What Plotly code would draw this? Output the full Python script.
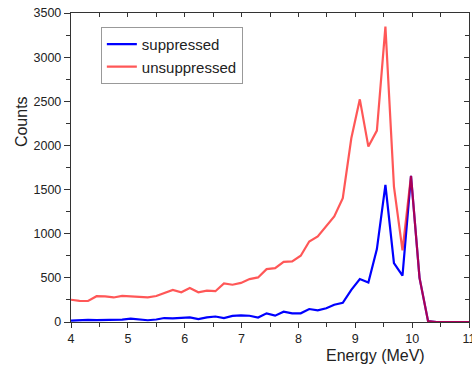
import plotly.graph_objects as go

energy = [4.00, 4.15, 4.30, 4.45, 4.60, 4.75, 4.90, 5.05, 5.20, 5.35,
          5.50, 5.64, 5.79, 5.94, 6.09, 6.24, 6.39, 6.54, 6.69, 6.84,
          6.99, 7.14, 7.29, 7.44, 7.59, 7.74, 7.89, 8.04, 8.19, 8.34,
          8.49, 8.63, 8.78, 8.93, 9.08, 9.23, 9.38, 9.53, 9.68, 9.83,
          9.98, 10.13, 10.28, 10.43, 10.58, 10.73, 10.88, 11.03]

suppressed = [15, 22, 25, 22, 25, 22, 28, 38, 32, 20,
              28, 45, 40, 50, 52, 32, 52, 62, 45, 70,
              75, 71, 50, 98, 72, 117, 98, 98, 147, 132,
              155, 195, 218, 365, 486, 448, 826, 1553, 667, 524,
              1655, 500, 10, 0, 0, 0, 0, 0]

unsuppressed = [252, 240, 238, 292, 290, 278, 296, 290, 283, 280,
                294, 328, 364, 336, 384, 337, 356, 349, 438, 422,
                443, 486, 505, 599, 610, 682, 686, 750, 912, 969,
                1082, 1195, 1403, 2081, 2522, 1987, 2168, 3345, 1534, 812,
                1655, 500, 10, 0, 0, 0, 0, 0]

FONT = "Liberation Sans, Arial, sans-serif"
AX = "#333333"

fig = go.Figure()
fig.add_trace(go.Scatter(x=energy, y=suppressed, mode="lines", name="suppressed",
                         line=dict(color="#0000ff", width=2.2)))
# drawn on the overlay axes (same ranges) so it sits on top and the
# inside-tick top/right axes are rendered
fig.add_trace(go.Scatter(x=energy, y=unsuppressed, mode="lines", name="unsuppressed",
                         xaxis="x2", yaxis="y2",
                         line=dict(color="rgba(255,0,0,0.66)", width=2.2)))

common = dict(showgrid=False, zeroline=False, tickcolor=AX, tickwidth=1.3,
              automargin=False)

fig.update_layout(
    width=472, height=368,
    margin=dict(l=71, r=3, t=13, b=46),
    paper_bgcolor="white", plot_bgcolor="white",
    font=dict(family=FONT, color="#222222"),
    showlegend=True,
    legend=dict(x=0.075, y=0.955, xanchor="left", yanchor="top",
                bgcolor="white", bordercolor="#999999", borderwidth=1,
                font=dict(family=FONT, size=15, color="#222222"),
                tracegroupgap=0, itemwidth=30),
    xaxis=dict(range=[4, 11], dtick=1, tick0=4, ticks="outside", ticklen=5,
               showline=True, linecolor=AX, linewidth=1.4, mirror=True,
               ticklabeloverflow="allow",
               tickfont=dict(size=12.5, family=FONT, color="#222222"),
               minor=dict(dtick=0.5, ticks="outside", ticklen=4, tickcolor=AX, tickwidth=1.3),
               **common),
    yaxis=dict(range=[0, 3500], dtick=500, tick0=0, ticks="outside", ticklen=6,
               showline=True, linecolor=AX, linewidth=1.4, mirror=True,
               tickfont=dict(size=12.5, family=FONT, color="#222222"),
               minor=dict(dtick=250, ticks="outside", ticklen=4, tickcolor=AX, tickwidth=1.3),
               **common),
    xaxis2=dict(range=[4, 11], dtick=1, tick0=4, overlaying="x", side="top", anchor="y2",
                ticks="inside", ticklen=4, showticklabels=False, showline=False,
                minor=dict(dtick=0.5, ticks="inside", ticklen=4, tickcolor=AX, tickwidth=1.3),
                **common),
    yaxis2=dict(range=[0, 3500], dtick=500, tick0=0, overlaying="y", side="right", anchor="x2",
                ticks="inside", ticklen=5, showticklabels=False, showline=False,
                minor=dict(dtick=250, ticks="inside", ticklen=4, tickcolor=AX, tickwidth=1.3),
                **common),
    annotations=[
        dict(text="Counts", xref="paper", yref="paper", x=-0.1256, y=0.647,
             textangle=-90, showarrow=False, xanchor="center", yanchor="middle",
             font=dict(family=FONT, size=16, color="#222222")),
        dict(text="Energy (MeV)", xref="paper", yref="paper", x=0.764, y=-0.110,
             showarrow=False, xanchor="center", yanchor="middle",
             font=dict(family=FONT, size=16, color="#222222")),
    ],
)

fig.write_html("out.html", config={"displayModeBar": False},
               post_script="document.body.style.margin='0px';")
